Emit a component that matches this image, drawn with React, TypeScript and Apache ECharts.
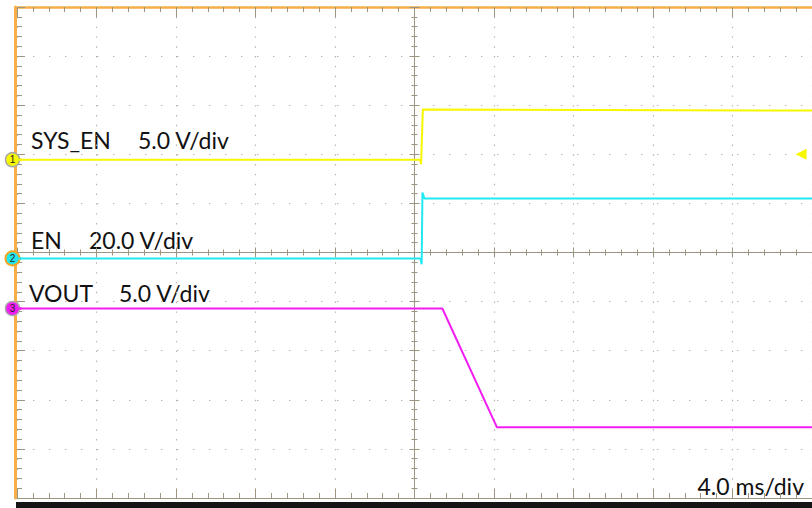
import React, { useEffect, useRef } from "react";
import * as echarts from "echarts";

// Time in ms (4 ms/div, trigger at 0), vertical in divisions
const sysEnTime = [-20, 0.28, 0.33, 0.42, 20];
const sysEnLevel = [1.89, 1.89, 1.8, 2.91, 2.89];

const enTime = [-20, 0.3, 0.36, 0.4, 0.5, 20];
const enLevel = [-0.12, -0.12, -0.24, 1.22, 1.1, 1.1];

const voutTime = [-20, 1.4, 4.15, 20];
const voutLevel = [-1.14, -1.14, -3.56, -3.56];

const channelNames = ["SYS_EN", "EN", "VOUT"];
const channelScales = ["5.0 V/div", "20.0 V/div", "5.0 V/div"];
const channelNumbers = ["1", "2", "3"];
const channelOffsets = [1.89, -0.12, -1.14];
const channelColors = ["#F7F700", "#22E8F2", "#F21DF2"];
const markerBorders = ["#A9A9A9", "#F5A623", "#A9A9A9"];
const triggerLevel = 2.0;
const timeBase = "4.0 ms/div";

const X_MIN = -20;
const X_MAX = 20;
const Y_MIN = -5;
const Y_MAX = 5;

const GRID_GREY = "#9C9582";
const DOT_GREY = "#B8B3A6";
const ORANGE = "#F6AE48";

function zip(t: number[], v: number[]) {
  return t.map((x, i) => [x, v[i]]);
}

export default function App() {
  const ref = useRef<HTMLDivElement>(null);

  useEffect(() => {
    if (!ref.current) return;
    const chart = echarts.init(ref.current, undefined, { renderer: "svg" });

    const baseX = {
      type: "value" as const,
      min: X_MIN,
      max: X_MAX,
      interval: 4,
      axisLabel: { show: false },
      splitLine: { show: false },
    };
    const baseY = {
      type: "value" as const,
      min: Y_MIN,
      max: Y_MAX,
      interval: 1,
      axisLabel: { show: false },
      splitLine: { show: false },
    };

    const tickStyle = { color: GRID_GREY, width: 1 };

    const traces = [
      zip(sysEnTime, sysEnLevel),
      zip(enTime, enLevel),
      zip(voutTime, voutLevel),
    ];

    const series: any[] = traces.map((data, i) => ({
      type: "line",
      xAxisIndex: 0,
      yAxisIndex: 0,
      data,
      symbol: "none",
      lineStyle: { color: channelColors[i], width: 2 },
      z: 5,
      markPoint: {
        silent: true,
        animation: false,
        data: [
          {
            coord: [X_MIN + 0.14, channelOffsets[i]],
            symbol: "triangle",
            symbolRotate: -90,
            symbolSize: [7, 6],
            itemStyle: { color: channelColors[i] },
            label: { show: false },
          },
          {
            coord: [X_MIN, channelOffsets[i]],
            symbol: "circle",
            symbolSize: 14,
            symbolOffset: [-4.5, 0],
            itemStyle: {
              color: channelColors[i],
              borderColor: markerBorders[i],
              borderWidth: i === 1 ? 2 : 1.5,
            },
            label: {
              show: true,
              formatter: channelNumbers[i],
              color: "#222",
              fontSize: 10,
              fontFamily: "Liberation Sans",
              position: "inside",
            },
          },
          ...(i === 0
            ? [
                {
                  coord: [19.45, triggerLevel],
                  symbol: "triangle",
                  symbolRotate: 90,
                  symbolSize: [11, 11],
                  itemStyle: { color: channelColors[0] },
                  label: { show: false },
                },
              ]
            : []),
        ],
      },
    }));

    const textStyle = (x: number, y: number, text: string, align = "left") => ({
      type: "text",
      x,
      y,
      silent: true,
      style: {
        text,
        fill: "#111",
        font: "23px Lato",
        textAlign: align,
        textVerticalAlign: "middle",
      },
    });

    chart.setOption({
      animation: false,
      grid: { left: 17, right: -5, top: 7, bottom: 10, containLabel: false },
      xAxis: [
        {
          ...baseX,
          position: "bottom",
          axisLine: { show: true, onZero: false, lineStyle: { color: GRID_GREY, width: 1 } },
          axisTick: { show: true, inside: true, length: 9, lineStyle: tickStyle },
          minorTick: { show: true, splitNumber: 5, length: 5, lineStyle: tickStyle },
          splitLine: {
            show: true,
            lineStyle: { color: DOT_GREY, width: 1.2, type: [1.4, 8.42] },
          },
        },
        {
          ...baseX,
          position: "top",
          axisLine: { show: true, onZero: false, lineStyle: { color: ORANGE, width: 2.5 } },
          axisTick: { show: true, inside: true, length: 10, lineStyle: tickStyle },
          minorTick: { show: true, splitNumber: 5, length: 5, lineStyle: tickStyle },
        },
        {
          ...baseX,
          position: "top",
          axisLine: { show: true, onZero: true, onZeroAxisIndex: 0, lineStyle: { color: GRID_GREY, width: 1 } },
          axisTick: { show: true, inside: true, length: 5, lineStyle: tickStyle },
          minorTick: { show: true, splitNumber: 5, length: 3, lineStyle: tickStyle },
        },
        {
          ...baseX,
          position: "top",
          axisLine: { show: false, onZero: true, onZeroAxisIndex: 0 },
          axisTick: { show: true, inside: false, length: 5, lineStyle: tickStyle },
          minorTick: { show: true, splitNumber: 5, length: 3, lineStyle: tickStyle },
        },
      ],
      yAxis: [
        {
          ...baseY,
          position: "left",
          axisLine: { show: false, onZero: false },
          axisTick: { show: true, inside: true, length: 8, lineStyle: tickStyle },
          minorTick: { show: true, splitNumber: 5, length: 5, lineStyle: tickStyle },
          splitLine: {
            show: true,
            lineStyle: { color: DOT_GREY, width: 1.2, type: [1.4, 14.6] },
          },
        },
        {
          ...baseY,
          position: "left",
          offset: 1.5,
          axisLine: { show: true, onZero: false, lineStyle: { color: ORANGE, width: 3 } },
          axisTick: { show: false },
        },
        {
          ...baseY,
          position: "left",
          axisLine: { show: true, onZero: true, onZeroAxisIndex: 0, lineStyle: { color: GRID_GREY, width: 1 } },
          axisTick: { show: true, inside: true, length: 5, lineStyle: tickStyle },
          minorTick: { show: true, splitNumber: 5, length: 3, lineStyle: tickStyle },
        },
        {
          ...baseY,
          position: "left",
          axisLine: { show: false, onZero: true, onZeroAxisIndex: 0 },
          axisTick: { show: true, inside: false, length: 5, lineStyle: tickStyle },
          minorTick: { show: true, splitNumber: 5, length: 3, lineStyle: tickStyle },
        },
      ],
      series,
      graphic: [
        {
          type: "rect",
          silent: true,
          shape: { x: 16, y: 502, width: 796, height: 6 },
          style: { fill: "#151515" },
        },
        textStyle(31, 139.5, channelNames[0]),
        textStyle(138, 139.5, channelScales[0]),
        textStyle(31, 239.5, channelNames[1]),
        textStyle(89, 239.5, channelScales[1]),
        textStyle(29, 292.5, channelNames[2]),
        textStyle(119, 292.5, channelScales[2]),
        textStyle(804, 485.5, timeBase, "right"),
      ],
    });

    return () => chart.dispose();
  }, []);

  return (
    <div
      ref={ref}
      style={{ position: "absolute", left: 0, top: 0, width: 812, height: 508, background: "#fff" }}
    />
  );
}
